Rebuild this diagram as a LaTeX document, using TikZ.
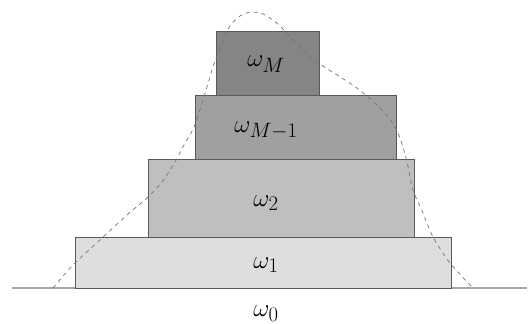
\documentclass[tikz,border=0pt]{standalone}
\usepackage{amsmath}
\begin{document}
\begin{tikzpicture}[x=1pt,y=-1pt,
  level/.style={draw=black!65,line width=0.9pt},
  lab/.style={anchor=base,font=\fontsize{31}{36}\selectfont,inner sep=0pt},
  density/.style={draw=black!55,dashed,dash pattern=on 4pt off 4pt,line width=0.7pt}]
\useasboundingbox (0,0) rectangle (531,324);
\definecolor{g1}{HTML}{DEDEDE}
\definecolor{g2}{HTML}{BFBFBF}
\definecolor{g3}{HTML}{A0A0A0}
\definecolor{g4}{HTML}{858585}
\coordinate (baseL) at (12,288);
\coordinate (baseR) at (527,288);
\draw[black!35,line width=1.3pt] (baseL) -- (baseR);
\filldraw[level,fill=g1] (75,288) rectangle (451.5,237);
\filldraw[level,fill=g2] (148,237) rectangle (414,159.5);
\filldraw[level,fill=g3] (195,159.5) rectangle (396,95);
\filldraw[level,fill=g4] (216.5,95) rectangle (319,31.5);
\node[lab] (wM) at (266,66.5) {$\omega_M$};
\node[lab] (wM1) at (266,132) {$\omega_{M-1}$};
\node[lab] (w2) at (266,206) {$\omega_2$};
\node[lab] (w1) at (266,268) {$\omega_1$};
\node[lab] (w0) at (266,316.5) {$\omega_0$};
\draw[density] plot[smooth,tension=0.5] coordinates {
 (53,288) (73,265) (102,238) (127,215) (148,197) (162,182) (175,162)
 (185,143) (194,127) (203,100) (213,67) (222,43) (230,26) (240,16)
 (250,12.3) (262,13.5) (277,23.3) (300,46.7)
 (317,62) (337,75) (357,88) (378,106) (392,122) (400,138) (407,162)
 (413,190) (423,213) (433,237) (450,263) (473,288)};
\end{tikzpicture}
\end{document}
